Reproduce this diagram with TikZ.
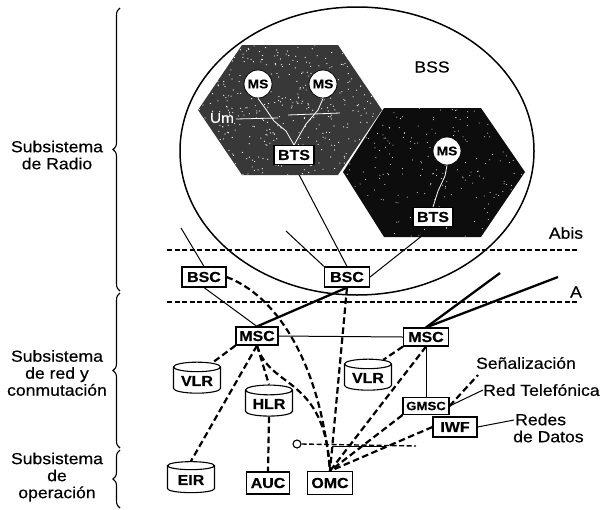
\documentclass[tikz,border=0pt]{standalone}
\usepackage{fontspec}
\setmainfont{Liberation Sans}
\newfontfamily\labfont[FakeStretch=1.1,FakeBold=0.4]{Liberation Sans}
\usetikzlibrary{shapes.geometric,decorations.pathreplacing}
\pgfdeclarelayer{bg}
\pgfsetlayers{bg,main}
\begin{document}
\begin{tikzpicture}[x=1pt,y=-1pt,
  lab/.style={font=\labfont\fontsize{16}{17}\selectfont, align=center, inner sep=0pt},
  box/.style={draw, fill=white, line width=1.1pt, font=\labfont\bfseries\fontsize{14.5}{14.5}\selectfont,
    minimum width=43pt, minimum height=19pt, inner sep=1pt},
  cyl/.style={cylinder, shape border rotate=90, aspect=0.28, draw, fill=white, line width=1.1pt,
    font=\labfont\bfseries\fontsize{14.5}{14.5}\selectfont, inner sep=1pt,
    minimum width=47pt, minimum height=31pt},
  ms/.style={circle, draw, fill=white, line width=0.8pt, minimum size=28pt, inner sep=0pt,
    font=\labfont\bfseries\fontsize{12.5}{12.5}\selectfont},
  conn/.style={line width=2.2pt, dash pattern=on 6.5pt off 3.5pt},
  thin/.style={line width=1pt},
  thick/.style={line width=2.3pt},
  iface/.style={line width=1.4pt, dash pattern=on 5pt off 2.5pt},
  brc/.style={decorate, decoration={brace, amplitude=7pt}, line width=1.1pt},
  inner/.style={white, line width=0.8pt}
]
\useasboundingbox (0,0) rectangle (604,509);

% cells
\fill[black!78] (198,110) -- (242,45) -- (338,45) -- (382,110) -- (338,175) -- (242,175) -- cycle;
\begin{scope}
  \clip (198,110) -- (242,45) -- (338,45) -- (382,110) -- (338,175) -- (242,175) -- cycle;
  \pgfmathsetseed{7}
  \foreach \i in {1,...,450} {\fill[white] ({198+184*rnd},{45+130*rnd}) circle (0.6pt);}
\end{scope}
\fill[black!95] (343,172) -- (384,108) -- (481,108) -- (525,172) -- (481,237) -- (384,237) -- cycle;
\begin{scope}
  \clip (343,172) -- (384,108) -- (481,108) -- (525,172) -- (481,237) -- (384,237) -- cycle;
  \pgfmathsetseed{11}
  \foreach \i in {1,...,220} {\fill[white] ({343+182*rnd},{108+129*rnd}) circle (0.5pt);}
\end{scope}

% radio nodes
\node[ms] (ms1) at (258,84) {MS};
\node[ms] (ms2) at (323,84) {MS};
\node[ms] (ms3) at (447,151) {MS};
\node[box, minimum width=40pt] (bts1) at (294,155) {BTS};
\node[box, minimum width=40pt] (bts2) at (433,217) {BTS};
\draw[inner] (ms1.south) -- (265,108) -- (274,121) -- (286,131) -- (bts1.north);
\draw[inner] (ms2.south) -- (318,110) -- (306,124) -- (bts1.north);
\draw[inner] (236,119) -- (278,118) (288,115) -- (340,113);
\draw[inner] (ms3.south) -- (445,176) -- (438,191) -- (bts2.north);
\node[font=\labfont\fontsize{14}{14}\selectfont, text=white, inner sep=0pt] (um) at (222,118) {Um};

\node[lab] (bss) at (432,67) {BSS};
\node[lab] (abis) at (566,233) {Abis};
\node[lab] (a) at (576,292) {A};

% network nodes
\node[box, minimum width=44pt, minimum height=20pt] (bsc1) at (204,277) {BSC};
\node[box, minimum width=45pt, minimum height=20pt] (bsc2) at (347,277) {BSC};
\node[box, minimum width=42pt, minimum height=18pt] (msc1) at (257,336) {MSC};
\node[box, minimum width=45pt, minimum height=18pt] (msc2) at (426,337) {MSC};
\node[cyl] (vlr1) at (197,381) {VLR};
\node[cyl] (hlr) at (269,404) {HLR};
\node[cyl] (vlr2) at (368,378) {VLR};
\node[cyl] (eir) at (191,480) {EIR};
\node[box, minimum width=43pt, minimum height=22pt] (auc) at (268,483) {AUC};
\node[box, minimum width=45pt, minimum height=23pt] (omc) at (330,483) {OMC};
\node[box, minimum width=46pt, minimum height=17pt, font=\labfont\bfseries\fontsize{12}{12}\selectfont] (gmsc) at (426,406) {GMSC};
\node[box, minimum width=44pt, minimum height=20pt] (iwf) at (455,427) {IWF};
\node[circle, draw, line width=1.1pt, minimum size=8pt, inner sep=0pt] (o) at (297,444) {};

\node[lab, anchor=center] (senal) at (526,363) {Señalización};
\node[lab, anchor=west] (red) at (483,390) {Red Telefónica};
\node[lab, anchor=west, align=left] (redes) at (513,428) {\hspace*{2pt}Redes\\de Datos};

\coordinate (bscfree1) at (181,228);
\coordinate (bscfree2) at (286,231);
\coordinate (mscfree1) at (500,273);
\coordinate (mscfree2) at (558,277);
\coordinate (senalend) at (478,375);
\coordinate (redesend) at (514,420);
\coordinate (oend) at (416,446);
\coordinate (solA) at (332,446);
\coordinate (solB) at (385,446);

% subsystem labels and braces
\node[lab] (l1) at (57,155) {Subsistema\\de Radio};
\node[lab] (l2) at (57,373) {Subsistema\\de red y\\conmutación};
\node[lab] (l3) at (57,477) {Subsistema\\de\\operación};
\draw[brc] (120,291) -- (120,8);
\draw[brc] (120,448) -- (120,293);
\draw[brc] (120,508) -- (120,450);

\begin{pgfonlayer}{bg}
  \draw[line width=1.5pt] (357,151) ellipse [x radius=177pt, y radius=144pt];
  \draw[iface] (167,250) -- (577,250);
  \draw[iface] (167,302) -- (577,302);
  % radio links
  \draw[thin] (bscfree1) -- (bsc1.north);
  \draw[thin] (bscfree2) -- (bsc2.north west);
  \draw[thin] (bts1.south) -- (bsc2.north);
  \draw[thin] (bts2.south) -- (bsc2.east);
  % A interface
  \draw[thin] (bsc1.south) -- (msc1.north);
  \draw[thick] (bsc2.south) -- (msc1.north);
  \draw[thin] (msc1.east) -- (msc2.west);
  \draw[thick] (msc2.north) -- (mscfree1);
  \draw[thick] (msc2.north) -- (mscfree2);
  \draw[thin] (msc2.south) -- (gmsc.north);
  \draw[thin] (gmsc.east) -- (red.west);
  \draw[conn] (gmsc.east) -- (senalend);
  \draw[thin] (iwf.east) -- (redesend);
  % signalling / management
  \draw[conn] (bsc1.east) .. controls (275,295) and (320,360) .. (omc.north);
  \draw[conn] (bsc2.south) -- (omc.north);
  \draw[conn] (msc1.south west) -- (vlr1.50);
  \draw[conn] (msc1.south) -- (eir.north);
  \draw[conn] (msc1.south) -- (hlr.north);
  \draw[conn] (msc1.south) .. controls (270,390) and (325,375) .. (omc.north);
  \draw[conn] (hlr.south) -- (auc.north);
  \draw[conn] (msc2.south west) -- (vlr2.50);
  \draw[conn] (msc2.south) -- (omc.north);
  \draw[conn] (gmsc.south west) -- (omc.north);
  \draw[conn] (iwf.west) -- (omc.north);
  \draw[line width=1.4pt, dash pattern=on 5pt off 2.5pt] (o.east) -- (oend);
  \draw[thin] (solA) -- (solB);
\end{pgfonlayer}
\end{tikzpicture}
\end{document}
